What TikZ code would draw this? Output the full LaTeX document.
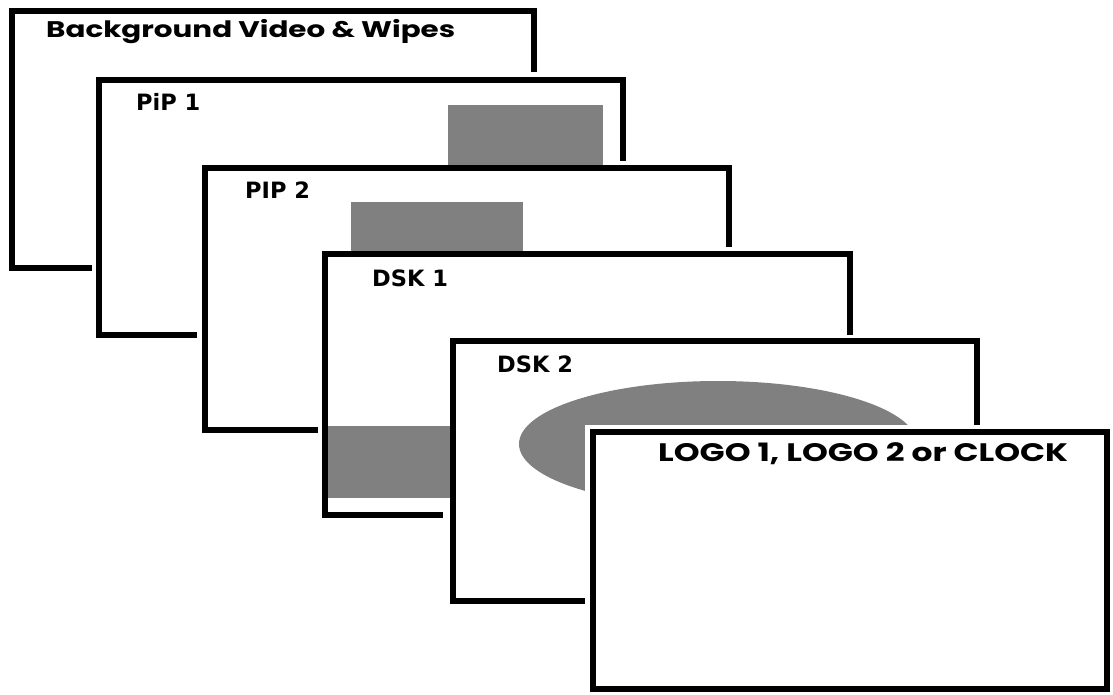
\documentclass[tikz,border=0pt]{standalone}
\usepackage{fontspec}
\newfontfamily\gothic{Poppins}[FakeStretch=1.3]
\newfontfamily\tah{DejaVu Sans}
\definecolor{patchgray}{HTML}{808080}
\tikzset{
  framefill/.style={fill=white, draw=none},
  border/.style={draw=black, line width=5.5pt, line join=miter, line cap=butt},
  patch/.style={fill=patchgray, draw=none},
  gothlbl/.style={anchor=base west, inner sep=0pt, font=\gothic\bfseries\fontsize{22.6}{22.6}\selectfont},
  logolbl/.style={anchor=base west, inner sep=0pt, font=\gothic\bfseries\fontsize{25.3}{25.3}\selectfont},
  tahlbl/.style={anchor=base west, inner sep=0pt, font=\tah\bfseries\fontsize{22.5}{22.5}\selectfont},
}
\begin{document}
\begin{tikzpicture}[x=1pt,y=-1pt]
\useasboundingbox[fill=white] (0,0) rectangle (1113,695);
% Frame 1: Background
\fill[framefill] (12,11) rectangle (534,268);
\draw[border] (534,72) -- (534,11) -- (12,11) -- (12,268) -- (92,268);
\node[gothlbl] (bg) at (46,38) {Background Video \& Wipes};
% Frame 2: PiP 1
\fill[framefill] (99,80) rectangle (623,335);
\fill[patch] (448,105) rectangle (603,170);
\draw[border] (623,161) -- (623,80) -- (99,80) -- (99,335) -- (197,335);
\node[tahlbl] (pip1) at (136,111) {PiP 1};
% Frame 3: PIP 2
\fill[framefill] (205,168) rectangle (729,430);
\fill[patch] (351,202) rectangle (523,256);
\draw[border] (729,247) -- (729,168) -- (205,168) -- (205,430) -- (318,430);
\node[tahlbl] (pip2) at (245,198) {PIP 2};
% Frame 4: DSK 1
\fill[framefill] (325,254) rectangle (850,515);
\fill[patch] (325,426) rectangle (455,498);
\draw[border] (850,335) -- (850,254) -- (325,254) -- (325,515) -- (443,515);
\node[tahlbl] (dsk1) at (372,286) {DSK 1};
% Frame 5: DSK 2
\fill[framefill] (453,341) rectangle (977,601);
\fill[patch] (718,444) ellipse [x radius=199, y radius=63];
\draw[border] (977,425) -- (977,341) -- (453,341) -- (453,601) -- (585,601);
\node[tahlbl] (dsk2) at (497,372) {DSK 2};
% Frame 6: LOGO
\fill[framefill] (585,425) rectangle (1111,693);
\draw[border] (593,432) rectangle (1107,689);
\node[logolbl] (logo) at (658,461) {LOGO 1, LOGO 2 or CLOCK};
\end{tikzpicture}
\end{document}
